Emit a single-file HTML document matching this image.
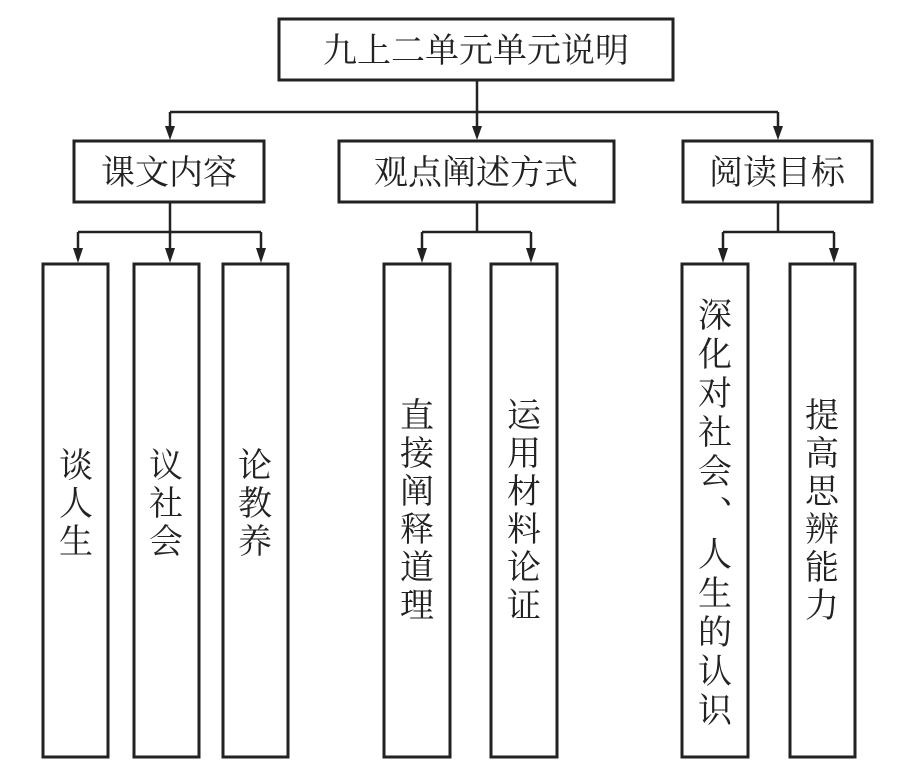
<!DOCTYPE html>
<html><head><meta charset="utf-8"><style>
html,body{margin:0;padding:0;background:#fff;}
svg text{font-family:"Liberation Serif","Noto Serif CJK SC",serif;fill:#222;}
</style></head><body>
<svg width="924" height="776" viewBox="0 0 924 776" xmlns="http://www.w3.org/2000/svg">
<g fill="none" stroke="#222" stroke-width="3">
<rect x="279" y="19" width="394" height="61"/>
<rect x="74" y="141" width="190" height="61"/>
<rect x="339" y="141" width="275" height="61"/>
<rect x="683" y="141" width="189" height="61"/>
<rect x="43" y="264" width="65" height="493"/>
<rect x="134" y="264" width="65" height="493"/>
<rect x="223" y="264" width="65" height="493"/>
<rect x="384" y="264" width="66" height="493"/>
<rect x="491" y="264" width="66" height="493"/>
<rect x="682" y="264" width="66" height="493"/>
<rect x="790" y="264" width="65" height="493"/>
</g>
<g fill="none" stroke="#222" stroke-width="2.5">
<path d="M477,80 V112 M170,112 H778 M170,112 V128 M477,112 V128 M778,112 V128"/>
<path d="M170,202 V232 M78,232 H261 M477,202 V232 M422,232 H531 M778,202 V232 M723,232 H834"/>
<path d="M78,232 V250 M170,232 V250 M261,232 V250 M422,232 V250 M531,232 V250 M723,232 V250 M834,232 V250"/>
</g>
<g fill="#222">
<polygon points="165,126 175,126 170,140"/>
<polygon points="472,126 482,126 477,140"/>
<polygon points="773,126 783,126 778,140"/>
<polygon points="73,248 83,248 78,263"/>
<polygon points="165,248 175,248 170,263"/>
<polygon points="256,248 266,248 261,263"/>
<polygon points="417,248 427,248 422,263"/>
<polygon points="526,248 536,248 531,263"/>
<polygon points="718,248 728,248 723,263"/>
<polygon points="829,248 839,248 834,263"/>
</g>
<g font-size="34" text-anchor="middle">
<text x="476" y="62">九上二单元单元说明</text>
<text x="169" y="184">课文内容</text>
<text x="476" y="184">观点阐述方式</text>
<text x="777" y="184">阅读目标</text>
</g>
<g font-size="34" text-anchor="middle">
<text x="76" y="477">谈</text><text x="76" y="515">人</text><text x="76" y="553">生</text>
<text x="166" y="477">议</text><text x="166" y="515">社</text><text x="166" y="553">会</text>
<text x="255" y="477">论</text><text x="255" y="515">教</text><text x="255" y="553">养</text>
<text x="417" y="427">直</text><text x="417" y="465">接</text><text x="417" y="503">阐</text><text x="417" y="541">释</text><text x="417" y="579">道</text><text x="417" y="617">理</text>
<text x="524" y="427">运</text><text x="524" y="465">用</text><text x="524" y="503">材</text><text x="524" y="541">料</text><text x="524" y="579">论</text><text x="524" y="617">证</text>
<text x="715" y="327">深</text><text x="715" y="366">化</text><text x="715" y="405">对</text><text x="715" y="444">社</text><text x="715" y="483">会</text><text x="737" y="503">、</text><text x="715" y="566">人</text><text x="715" y="605">生</text><text x="715" y="644">的</text><text x="715" y="683">认</text><text x="715" y="722">识</text>
<text x="822" y="427">提</text><text x="822" y="465">高</text><text x="822" y="503">思</text><text x="822" y="541">辨</text><text x="822" y="579">能</text><text x="822" y="617">力</text>
</g>
</svg>
</body></html>
